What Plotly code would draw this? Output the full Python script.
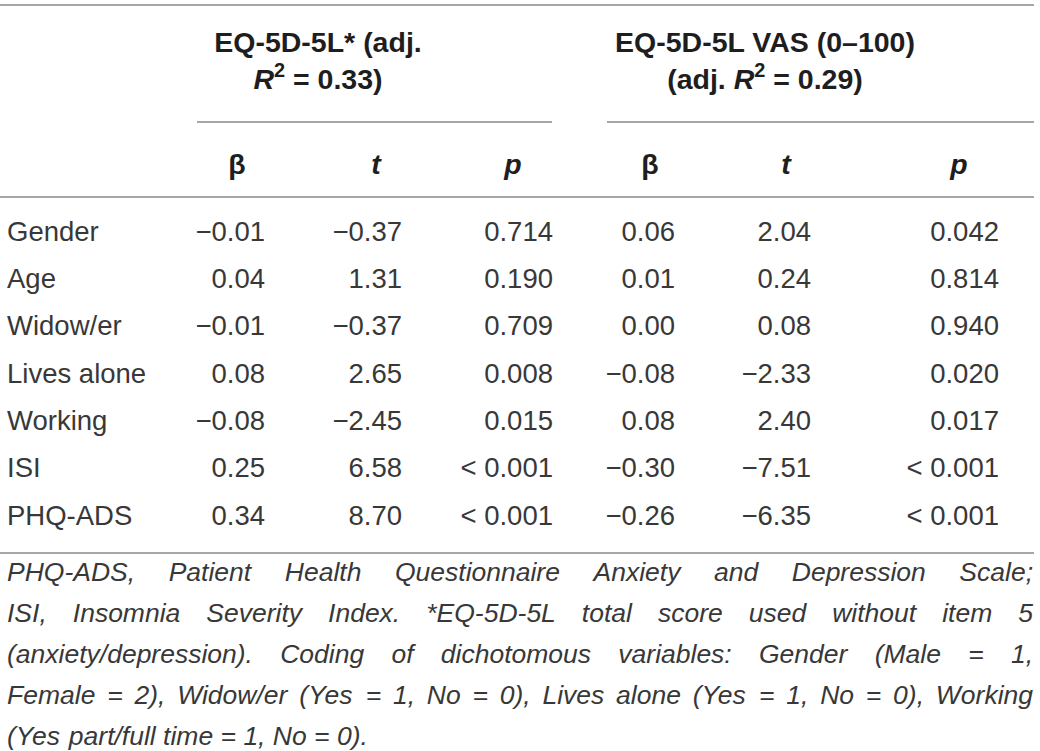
import plotly.graph_objects as go

# ---------------- data ----------------
row_labels = ["Gender", "Age", "Widow/er", "Lives alone", "Working", "ISI", "PHQ-ADS"]
eq_beta = [-0.01, 0.04, -0.01, 0.08, -0.08, 0.25, 0.34]
eq_t = [-0.37, 1.31, -0.37, 2.65, -2.45, 6.58, 8.70]
eq_p = ["0.714", "0.190", "0.709", "0.008", "0.015", "< 0.001", "< 0.001"]
vas_beta = [0.06, 0.01, 0.00, -0.08, 0.08, -0.30, -0.26]
vas_t = [2.04, 0.24, 0.08, -2.33, 2.40, -7.51, -6.35]
vas_p = ["0.042", "0.814", "0.940", "0.020", "0.017", "< 0.001", "< 0.001"]

group_title_lines = [
    ["EQ-5D-5L* (adj.", "<i>R</i><sup>2</sup> = 0.33)"],
    ["EQ-5D-5L VAS (0\u2013100)", "(adj. <i>R</i><sup>2</sup> = 0.29)"],
]
stat_headers = ["\u03b2", "<i>t</i>", "<i>p</i>"]

footnote_lines = [
    "PHQ-ADS, Patient Health Questionnaire Anxiety and Depression Scale;",
    "ISI, Insomnia Severity Index. *EQ-5D-5L total score used without item 5",
    "(anxiety/depression). Coding of dichotomous variables: Gender (Male = 1,",
    "Female = 2), Widow/er (Yes = 1, No = 0), Lives alone (Yes = 1, No = 0), Working",
    "(Yes part/full time = 1, No = 0).",
]

# ---------------- layout constants ----------------
W, H = 1040, 751
FONT = "Liberation Sans"
TXT = "#383838"
HEAD_TXT = "#1e1e1e"
LINE = "#a6a6a6"
DATA_FS = 27.5
HEAD_FS = 28.5
FOOT_FS = 26.5

label_x = 7
col_right = [265, 402, 553, 675, 811, 999]      # right edges of numeric columns
head_center = [237, 376, 513, 650, 786, 959]     # centres of the β/t/p headers
group_center = [318, 765]
group_y = [45, 82]
head_y = 167
row_y0, row_h = 234, 47.3
foot_y0, foot_h = 574, 41.2
foot_left, foot_right = 7, 1033


def fmt(v):
    return f"{v:.2f}".replace("-", "\u2212")


def fmt_p(s):
    return s


rows_y = [row_y0 + i * row_h for i in range(len(row_labels))]

fig = go.Figure()

# row labels
fig.add_trace(go.Scatter(
    x=[label_x] * len(row_labels), y=rows_y, text=row_labels, mode="text",
    textposition="middle right", textfont=dict(family=FONT, size=DATA_FS, color=TXT),
    hoverinfo="skip", cliponaxis=False))

# numeric columns
columns = [
    [fmt(v) for v in eq_beta], [fmt(v) for v in eq_t], [fmt_p(v) for v in eq_p],
    [fmt(v) for v in vas_beta], [fmt(v) for v in vas_t], [fmt_p(v) for v in vas_p],
]
for xr, col in zip(col_right, columns):
    fig.add_trace(go.Scatter(
        x=[xr] * len(col), y=rows_y, text=col, mode="text",
        textposition="middle left", textfont=dict(family=FONT, size=DATA_FS, color=TXT),
        hoverinfo="skip", cliponaxis=False))

# stat headers
fig.add_trace(go.Scatter(
    x=head_center, y=[head_y] * 6, text=["<b>" + s + "</b>" for s in stat_headers * 2],
    mode="text", textposition="middle center",
    textfont=dict(family=FONT, size=HEAD_FS, color=HEAD_TXT), hoverinfo="skip",
    cliponaxis=False))

# group titles
for gc, lines in zip(group_center, group_title_lines):
    fig.add_trace(go.Scatter(
        x=[gc] * len(lines), y=group_y, text=["<b>" + s + "</b>" for s in lines],
        mode="text", textposition="middle center",
        textfont=dict(family=FONT, size=HEAD_FS, color=HEAD_TXT), hoverinfo="skip",
        cliponaxis=False))

# ---------------- footnote (justified) ----------------
AW = {' ': 278, '!': 278, '"': 355, '#': 556, '$': 556, '%': 889, '&': 667, "'": 191,
      '(': 333, ')': 333, '*': 389, '+': 584, ',': 278, '-': 333, '.': 278, '/': 278,
      ':': 278, ';': 278, '<': 584, '=': 584, '>': 584, '?': 556}
for ch in "0123456789":
    AW[ch] = 556
AW.update(dict(zip("ABCDEFGHIJKLMNOPQRSTUVWXYZ",
                   [667, 667, 722, 722, 667, 611, 778, 722, 278, 500, 667, 556, 833, 722,
                    778, 667, 778, 722, 667, 611, 722, 667, 944, 667, 667, 611])))
AW.update(dict(zip("abcdefghijklmnopqrstuvwxyz",
                   [556, 556, 500, 556, 556, 278, 556, 556, 222, 222, 500, 222, 833, 556,
                    556, 556, 556, 333, 500, 278, 556, 500, 722, 500, 500, 500])))


def text_w(s, fs):
    return sum(AW.get(c, 556) for c in s) * fs / 1000.0


fx, fy, ft = [], [], []
for li, line in enumerate(footnote_lines):
    y = foot_y0 + li * foot_h
    words = line.split(" ")
    justify = li < len(footnote_lines) - 1
    widths = [text_w(w, FOOT_FS) for w in words]
    if justify and len(words) > 1:
        gap = (foot_right - foot_left - sum(widths)) / (len(words) - 1)
    else:
        gap = text_w(" ", FOOT_FS)
    x = foot_left
    for w, wd in zip(words, widths):
        fx.append(x)
        fy.append(y)
        ft.append("<i>" + w + "</i>")
        x += wd + gap

fig.add_trace(go.Scatter(
    x=fx, y=fy, text=ft, mode="text", textposition="middle right",
    textfont=dict(family=FONT, size=FOOT_FS, color=TXT), hoverinfo="skip",
    cliponaxis=False))

# ---------------- rules ----------------
rules = [
    (0, 1034, 5), (197, 552, 122), (607, 1034, 122), (0, 1034, 197), (0, 1034, 553),
]
shapes = [dict(type="line", xref="x", yref="y", x0=a, x1=b, y0=y, y1=y,
               line=dict(color=LINE, width=2)) for a, b, y in rules]

fig.update_layout(
    width=W, height=H, margin=dict(l=0, r=0, t=0, b=0),
    paper_bgcolor="white", plot_bgcolor="white", showlegend=False,
    xaxis=dict(range=[0, W], visible=False, fixedrange=True),
    yaxis=dict(range=[H, 0], visible=False, fixedrange=True),
    shapes=shapes,
)

fig.write_html(
    "out.html",
    config={"displayModeBar": False},
    post_script="document.body.style.margin='0px';document.body.style.overflow='hidden';",
)
